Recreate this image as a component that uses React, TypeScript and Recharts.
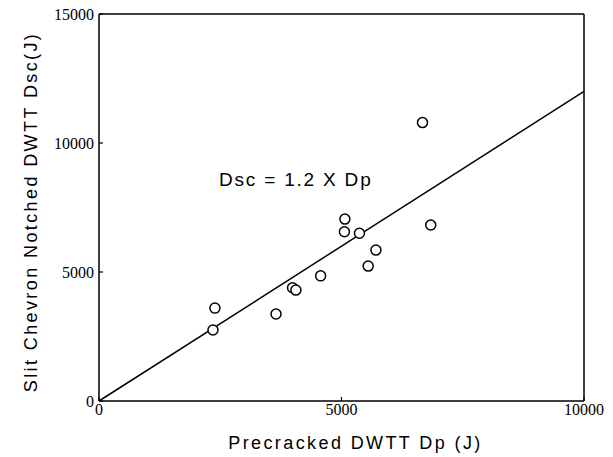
import { ScatterChart, Scatter, XAxis, YAxis, Label, ReferenceLine } from 'recharts'

// precracked Dp (J) vs slit chevron notched Dsc (J)
const dpValues = [2390, 2350, 3650, 3990, 4060, 4570, 5070, 5060, 5370, 5710, 5550, 6840, 6670]
const dscValues = [3600, 2750, 3370, 4390, 4300, 4850, 7050, 6560, 6500, 5850, 5230, 6820, 10790]

// fitted line Dsc = 1.2 x Dp
const fitDp = [0, 10000]
const fitDsc = [0, 12000]

const xTicks = [0, 5000, 10000]
const yTicks = [0, 5000, 10000, 15000]

const points = dpValues.map((x, i) => ({ x, y: dscValues[i] }))
const fitLine = fitDp.map((x, i) => ({ x, y: fitDsc[i] }))

const tickStyle = { fill: '#000', fontSize: 16, fontFamily: 'Liberation Serif' }
const titleStyle = { fill: '#000', fontSize: 18, fontFamily: 'Liberation Sans', letterSpacing: 2.4 }

const Ring = (props: any) => (
  <circle cx={props.cx} cy={props.cy} r={5} fill="#fff" stroke="#000" strokeWidth={1.5} />
)

export default function App() {
  return (
    <div style={{ position: 'absolute', left: 0, top: 0, background: '#fff' }}>
      <ScatterChart width={613} height={457} margin={{ top: 14, right: 29, bottom: 16, left: 39 }}>
        <XAxis
          type="number"
          dataKey="x"
          domain={[0, 10000]}
          ticks={xTicks}
          height={40}
          tick={tickStyle}
          tickSize={-4}
          tickMargin={7}
          axisLine={{ stroke: '#000', strokeWidth: 1.5 }}
          tickLine={{ stroke: '#000', strokeWidth: 1.2 }}
        >
          <Label
            content={({ viewBox }: any) => (
              <text
                x={viewBox.x + viewBox.width / 2 + 14}
                y={viewBox.y + 48}
                textAnchor="middle"
                style={titleStyle}
              >
                Precracked DWTT Dp (J)
              </text>
            )}
          />
        </XAxis>
        <YAxis
          type="number"
          dataKey="y"
          domain={[0, 15000]}
          ticks={yTicks}
          width={60}
          tick={tickStyle}
          tickSize={-4}
          tickMargin={9}
          axisLine={{ stroke: '#000', strokeWidth: 1.5 }}
          tickLine={{ stroke: '#000', strokeWidth: 1.2 }}
        >
          <Label
            content={() => (
              <text x={37} y={212} textAnchor="middle" transform="rotate(-90, 37, 212)" style={titleStyle}>
                Slit Chevron Notched DWTT Dsc(J)
              </text>
            )}
          />
        </YAxis>
        {/* box frame: top and right edges */}
        <ReferenceLine y={15000} stroke="#000" strokeWidth={1.5} />
        <ReferenceLine x={10000} stroke="#000" strokeWidth={1.5} />
        <Scatter
          data={fitLine}
          line={{ stroke: '#000', strokeWidth: 1.5 }}
          lineType="joint"
          shape={() => <g />}
          isAnimationActive={false}
        />
        <Scatter data={points} shape={Ring} isAnimationActive={false} />
        <text x={219} y={186} style={{ fill: '#000', fontSize: 19, fontFamily: 'Liberation Sans', letterSpacing: 1.8 }}>
          Dsc = 1.2 X Dp
        </text>
      </ScatterChart>
    </div>
  )
}
